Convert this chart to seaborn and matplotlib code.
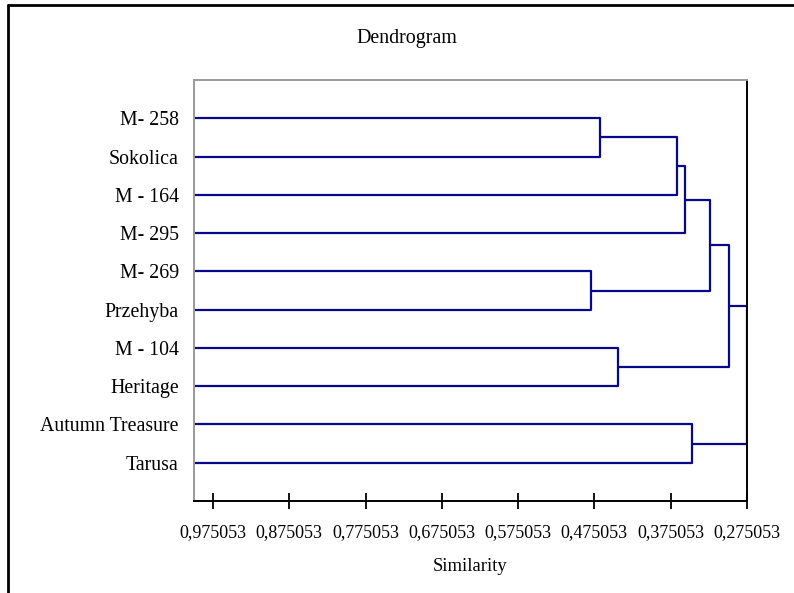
import matplotlib
matplotlib.use("Agg")
import matplotlib.pyplot as plt
from matplotlib.lines import Line2D
import numpy as np
import pandas as pd
import seaborn as sns

# Cultivars, top to bottom
labels = ["M- 258", "Sokolica", "M - 164", "M- 295", "M- 269", "Przehyba",
          "M - 104", "Heritage", "Autumn Treasure", "Tarusa"]

# Agglomeration steps: (left child, right child, similarity at merge).
# Children 0..9 are leaves, 10+ are earlier merges in order.
merge_left = [0, 10, 11, 4, 12, 6, 14, 8, 16]
merge_right = [1, 2, 3, 5, 13, 7, 15, 9, 17]
merge_sim = [0.4679, 0.3669, 0.3568, 0.4800, 0.3237, 0.4447, 0.2984, 0.3469, 0.275053]

tick_values = [0.975053, 0.875053, 0.775053, 0.675053, 0.575053, 0.475053, 0.375053, 0.275053]
tick_labels = ["0,975053", "0,875053", "0,775053", "0,675053",
               "0,575053", "0,475053", "0,375053", "0,275053"]

leaf_sim = 1.0
n = len(labels)

# Node coordinates: leaves sit at similarity 1 with rows 1..n
node_x = {i: leaf_sim for i in range(n)}
node_y = {i: float(i + 1) for i in range(n)}

rows = []
for k, (a, b, s) in enumerate(zip(merge_left, merge_right, merge_sim)):
    path = [(node_x[a], node_y[a]), (s, node_y[a]), (s, node_y[b]), (node_x[b], node_y[b])]
    for order, (px, py) in enumerate(path):
        rows.append({"link": k, "order": order, "sim": px, "row": py})
    node_x[n + k] = s
    node_y[n + k] = (node_y[a] + node_y[b]) / 2.0

links = pd.DataFrame(rows)

sns.set_theme(style="white")
plt.rcParams["font.family"] = ["Liberation Serif", "DejaVu Serif"]
plt.rcParams["text.color"] = "black"
plt.rcParams["xtick.color"] = "black"
plt.rcParams["ytick.color"] = "black"
plt.rcParams["axes.labelcolor"] = "black"

fig = plt.figure(figsize=(7.94, 5.93), dpi=100)
ax = fig.add_axes([194 / 794, 1 - 501 / 593, (747 - 194) / 794, (501 - 80) / 593])

sns.lineplot(data=links, x="sim", y="row", units="link", estimator=None, sort=False,
             color="#08088a", linewidth=1.6, ax=ax, legend=False)

ax.set_xlim(leaf_sim, tick_values[-1])
ax.set_ylim(n + 1, 0)

ax.set_xticks(tick_values)
ax.set_xticklabels(tick_labels, fontsize=13)
ax.set_yticks(np.arange(1, n + 1))
ax.set_yticklabels(labels, fontsize=14.3)
ax.tick_params(axis="x", direction="inout", length=12, width=1.3, color="black",
               pad=10.5, bottom=True, labelcolor="black")
ax.tick_params(axis="y", length=0, pad=11, labelcolor="black")

ax.set_xlabel("Similarity", fontsize=13.4, labelpad=12.5, color="black")
ax.set_ylabel("")

for side, col in (("left", "#9a9a9a"), ("top", "#9a9a9a"), ("right", "black"), ("bottom", "black")):
    ax.spines[side].set_visible(True)
    ax.spines[side].set_color(col)
    ax.spines[side].set_linewidth(1.4)

fig.text(407 / 794, 1 - 39 / 593, "Dendrogram", ha="center", va="center", fontsize=14.4,
         color="black")

# Outer chart frame (top and left edges)
fig.add_artist(Line2D([8 / 794, 1.0], [1 - 5 / 593, 1 - 5 / 593], color="black", linewidth=2,
                      transform=fig.transFigure))
fig.add_artist(Line2D([8 / 794, 8 / 794], [0.0, 1 - 5 / 593], color="black", linewidth=2,
                      transform=fig.transFigure))

fig.savefig("out.png", dpi=100)
